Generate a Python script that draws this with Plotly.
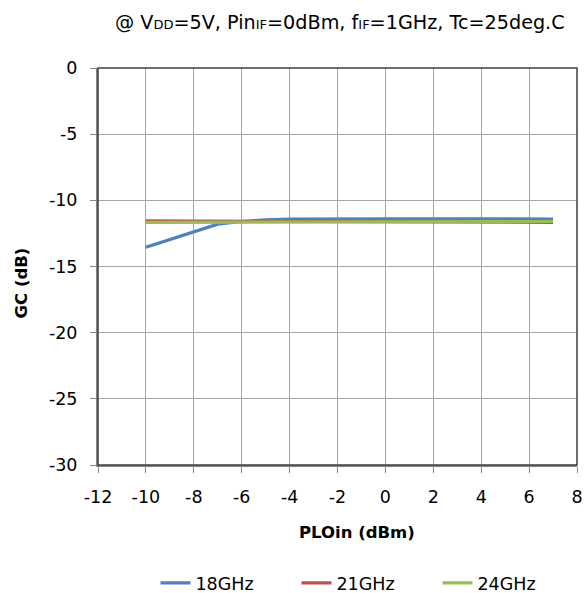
import plotly.graph_objects as go

# LO input power sweep (dBm)
plo_in = [-10, -9, -8, -7, -6, -5, -4, -3, -2, -1, 0, 1, 2, 3, 4, 5, 6, 7]

# Conversion gain (dB) per RF frequency
gc_18ghz = [-13.55, -12.96, -12.37, -11.8, -11.6, -11.47, -11.42, -11.4, -11.4, -11.4,
            -11.4, -11.4, -11.4, -11.4, -11.41, -11.41, -11.41, -11.41]
gc_21ghz = [-11.55, -11.56, -11.57, -11.58, -11.59, -11.6, -11.6, -11.61, -11.61, -11.62,
            -11.62, -11.63, -11.63, -11.64, -11.64, -11.65, -11.65, -11.66]
gc_24ghz = [-11.66, -11.66, -11.65, -11.65, -11.64, -11.63, -11.63, -11.62, -11.62, -11.61,
            -11.61, -11.61, -11.6, -11.6, -11.6, -11.6, -11.6, -11.6]

series = [
    ("18GHz", gc_18ghz, "#4F81BD"),
    ("21GHz", gc_21ghz, "#C0504D"),
    ("24GHz", gc_24ghz, "#9BBB59"),
]

x_ticks = [-12, -10, -8, -6, -4, -2, 0, 2, 4, 6, 8]
y_ticks = [0, -5, -10, -15, -20, -25, -30]

FONT = "DejaVu Sans"
SUB = "<span style='font-size:13px'>{}</span>"

fig = go.Figure()
for name, vals, color in series:
    fig.add_trace(go.Scatter(
        x=plo_in, y=vals, name=name, mode="lines",
        line=dict(color=color, width=3.2),
    ))

fig.update_layout(
    width=584, height=593,
    margin=dict(l=98, r=7, t=68, b=128, autoexpand=False),
    paper_bgcolor="white", plot_bgcolor="white",
    font=dict(family=FONT, size=17.5, color="black"),
    showlegend=True,
    legend=dict(
        orientation="h", x=0.12, xanchor="left", y=-0.297, yanchor="middle",
        font=dict(size=17.5), entrywidth=96, entrywidthmode="pixels",
        tracegroupgap=0,
    ),
    xaxis=dict(
        range=[-12, 8], tickvals=x_ticks, ticktext=[str(v) for v in x_ticks],
        showgrid=True, gridcolor="#A6A6A6", gridwidth=1.3,
        showline=True, linecolor="#868686", linewidth=2,
        ticks="outside", ticklen=6, tickcolor="#868686",
        ticklabelstandoff=9,
        zeroline=False,
    ),
    yaxis=dict(
        range=[-30, 0], tickvals=y_ticks, ticktext=[str(v) for v in y_ticks],
        showgrid=True, gridcolor="#A6A6A6", gridwidth=1.3,
        showline=True, linecolor="#868686", linewidth=2,
        ticks="outside", ticklen=6, tickcolor="#868686",
        ticklabelstandoff=9,
        zeroline=False,
    ),
    shapes=[dict(
        type="rect", xref="paper", yref="paper", x0=0, x1=1, y0=0, y1=1,
        line=dict(color="#404040", width=1.5), layer="above",
    )],
    annotations=[
        dict(
            text=("@ V" + SUB.format("DD") + "=5V, "
                  "Pin" + SUB.format("IF") + "=0dBm, "
                  "f" + SUB.format("IF") + "=1GHz, Tc=25deg.C"),
            xref="paper", yref="paper", x=1.0, xanchor="right", xshift=-10,
            y=1.0, yshift=46, yanchor="middle", showarrow=False,
            font=dict(size=19.2),
        ),
        # x-axis title
        dict(
            text="<b>PLOin (dBm)</b>", xref="paper", yref="paper",
            x=0.5, xshift=19, y=0, yshift=-67, xanchor="center", yanchor="middle",
            showarrow=False, font=dict(size=16.5),
        ),
        # y-axis title
        dict(
            text="<b>GC (dB)</b>", xref="paper", yref="paper", textangle=-90,
            x=0, xshift=-77, y=0.5, yshift=-17, xanchor="center", yanchor="middle",
            showarrow=False, font=dict(size=16.5),
        ),
    ],
)

fig.write_html("out.html")
